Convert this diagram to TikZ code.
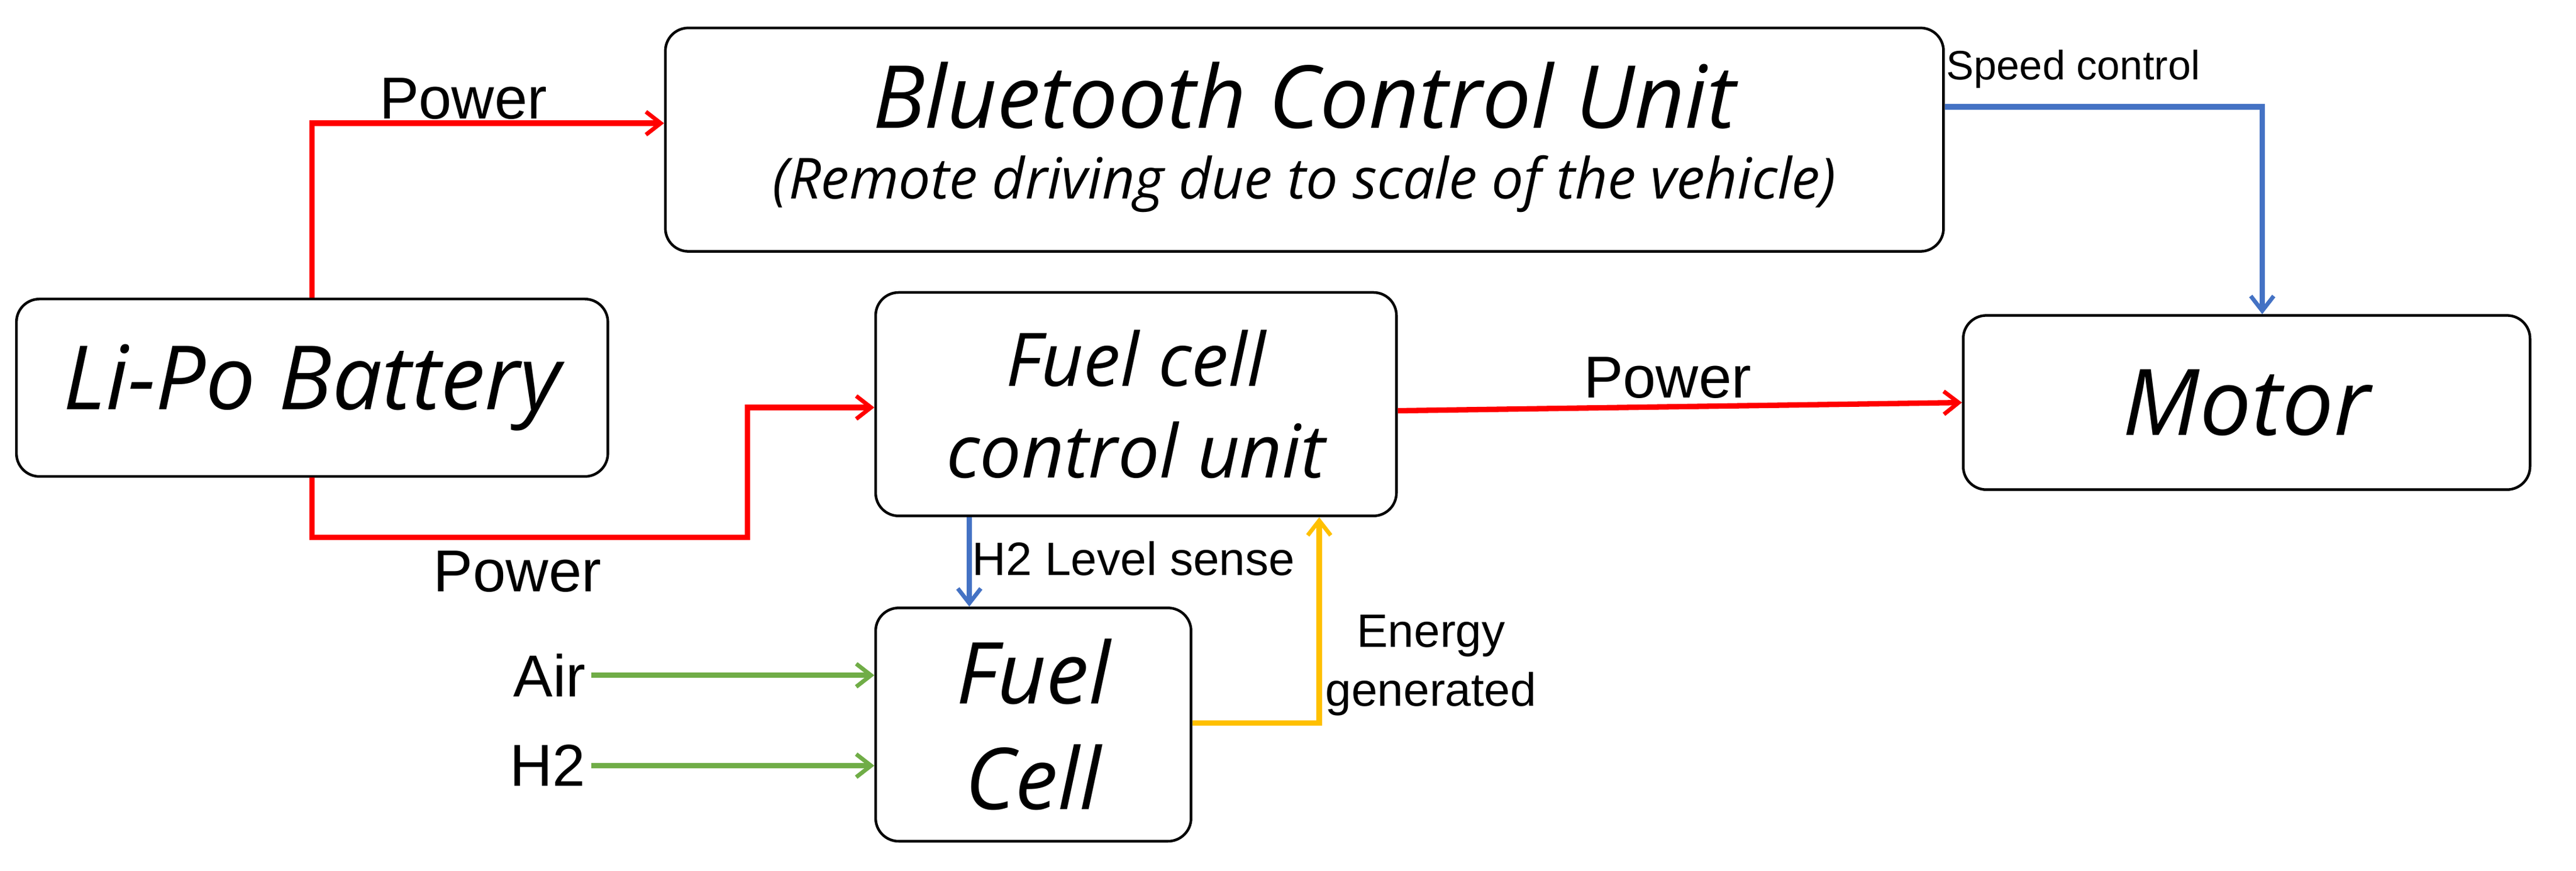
\documentclass[tikz,border=0pt]{standalone}
\usepackage{fontspec}
\setmainfont{Liberation Sans}
\newfontfamily\boxfont{Open Sans}
\usetikzlibrary{arrows.meta}
\definecolor{cred}{RGB}{255,0,0}
\definecolor{cblue}{RGB}{68,114,196}
\definecolor{cgreen}{RGB}{112,173,71}
\definecolor{cyel}{RGB}{255,192,0}
\begin{document}
\begin{tikzpicture}[x=1pt,y=-1pt,
  box/.style={draw,line width=1.6pt,rounded corners=14pt,inner sep=0pt},
  bt/.style={font=\boxfont\itshape,align=center},
  con/.style={line width=3.3pt,-{Straight Barb[length=9pt,width=14pt,line width=2.5pt]}},
  lab/.style={font=\fontsize{36}{40}\selectfont}]
\useasboundingbox (0,0) rectangle (1568,530);
\node[box,minimum width=778pt,minimum height=136pt] (bt) at (794,85) {};
\node[bt,font=\boxfont\itshape\fontsize{53}{58}\selectfont] (btt) at (794,58) {Bluetooth Control Unit};
\node[bt,font=\boxfont\itshape\fontsize{34.5}{38}\selectfont] (bts) at (794,112) {(Remote driving due to scale of the vehicle)};
\node[box,minimum width=360pt,minimum height=108pt,bt,font=\boxfont\itshape\fontsize{54}{60}\selectfont] (li) at (190,236) {Li-Po Battery};
\node[box,minimum width=317pt,minimum height=136pt,bt,font=\boxfont\itshape\fontsize{45}{56}\selectfont] (fc) at (691.5,246) {Fuel cell\\control unit};
\node[box,minimum width=345pt,minimum height=106pt,bt,font=\boxfont\itshape\fontsize{56}{60}\selectfont] (mo) at (1367.5,245) {Motor};
\node[box,minimum width=192pt,minimum height=142pt,bt,font=\boxfont\itshape\fontsize{52}{64}\selectfont] (cell) at (629,441) {Fuel\\Cell};
\node[lab,anchor=east] (airl) at (360,411) {Air};
\node[lab,anchor=east] (h2l) at (360,466) {H2};
\draw[con,cred] (li.north -| 190,0) |- (bt.west |- 0,75);
\draw[con,cred] (li.south -| 190,0) |- (455,327) |- (fc.west |- 0,248);
\draw[con,cred] (fc.east |- 0,250) -- (mo.west |- 0,245);
\draw[con,cblue] (bt.east |- 0,65) -| (mo.north -| 1377,0);
\draw[con,cblue] (fc.south -| 590,0) -- (cell.north -| 590,0);
\draw[con,cyel] (cell.east |- 0,440) -| (fc.south -| 803,0);
\draw[con,cgreen] (airl.east) -- (cell.west |- airl.east);
\draw[con,cgreen] (h2l.east) -- (cell.west |- h2l.east);
\node[lab] (p1) at (282,60) {Power};
\node[lab] (p2) at (315,348) {Power};
\node[lab] (p3) at (1015,230) {Power};
\node[font=\fontsize{25}{28}\selectfont] (sc) at (1262,42) {Speed control};
\node[font=\fontsize{28.5}{30}\selectfont] (h2s) at (690,340) {H2 Level sense};
\node[font=\fontsize{28.5}{36}\selectfont,align=center] (eg) at (871,405) {Energy\\generated};
\end{tikzpicture}
\end{document}
